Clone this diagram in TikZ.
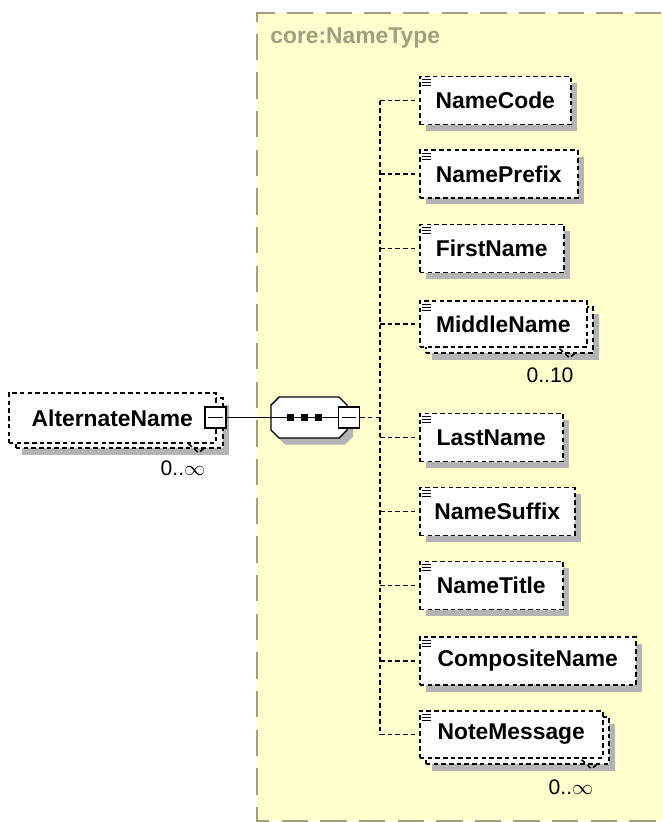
\documentclass[tikz,border=0pt]{standalone}
\usepackage{fontspec}
\setmainfont{Liberation Sans}
\usetikzlibrary{shadows}
\definecolor{framefill}{RGB}{255,255,206}
\definecolor{framegray}{RGB}{160,160,128}
\definecolor{shadowgray}{RGB}{180,180,180}
\newcommand\elfont{\fontsize{13}{15}\selectfont\bfseries}
\newcommand\occfont{\fontsize{12}{14}\selectfont}
\newcommand\docicon[1]{\foreach \k in {4,7,10} \draw[line width=0.6pt] ([shift={(3,\k)}]#1.north west) -- ++(9,0);}
\begin{document}
\begin{tikzpicture}[x=0.02cm,y=-0.02cm,
  boxw/.style={minimum width=#1*0.02cm},
  shadowed/.style={drop shadow={shadow xshift=0.12cm,shadow yshift=-0.13cm,fill=shadowgray,opacity=1}},
  elem/.style={draw,dash pattern=on 2.6pt off 1.8pt,line width=0.9pt,fill=white,font=\elfont,minimum height=0.96cm,inner sep=0pt,anchor=west},
  conn/.style={dash pattern=on 2.6pt off 1.8pt,line width=0.9pt},
  minusbox/.style={draw,fill=white,line width=0.7pt,minimum size=0.42cm,inner sep=0pt},
  occ/.style={font=\occfont,inner sep=0pt}]
\useasboundingbox (0,0) rectangle (663,822);

% complex type frame
\fill[framefill] (257,13) rectangle (700,821);
\draw[framegray,line width=1.1pt,dash pattern=on 15pt off 7pt] (700,13) -- (257,13) -- (257,821) -- (700,821);
\node[font=\elfont,text=framegray,anchor=west,inner sep=0pt] (typename) at (270,38) {core:NameType};

% root element
\node[elem,boxw=207,minimum height=1cm,shadowed] (altback) at (15,423) {};
\node[elem,boxw=207,minimum height=1cm] (alt) at (8,418) {AlternateName};
\draw[conn] ([shift={(-35,-5)}]altback.south east) -- ++(10,9) -- ++(6,-5);
\node[occ] (altocc) at (183,468) {0..$\infty$};

% sequence
\draw[fill=white,line width=0.8pt,shadowed] (279,397) -- (339,397) -- (347,405) -- (347,430)
  -- (339,438) -- (279,438) -- (271,430) -- (271,405) -- cycle;
\coordinate (seq) at (309,417.5);
\node[minusbox] (altminus) at (215.5,417.5) {};
\node[minusbox] (seqminus) at (349,417.5) {};
\draw[line width=0.8pt] (altminus.east) -- (seqminus.west);
\foreach \sx in {287,301,315} \fill (\sx,414) rectangle ++(7,7);
\draw[line width=0.7pt] ([shift={(4,0)}]altminus.west) -- ([shift={(-4,0)}]altminus.east);
\draw[line width=0.7pt] ([shift={(4,0)}]seqminus.west) -- ([shift={(-4,0)}]seqminus.east);
\coordinate (trunk) at (380,417.5);
\draw[conn] (seqminus.east) -- (trunk);

% child elements
\node[elem,boxw=151,shadowed] (code) at (419,100.5) {NameCode};
\node[elem,boxw=158,shadowed] (prefix) at (419,174) {NamePrefix};
\node[elem,boxw=144,shadowed] (first) at (419,248.5) {FirstName};
\node[elem,boxw=167,minimum height=0.92cm,shadowed] (midback) at (425,330) {};
\node[elem,boxw=167,minimum height=0.92cm] (middle) at (419,324) {MiddleName};
\draw[conn] ([shift={(-34,-5)}]midback.south east) -- ++(10,9) -- ++(6,-5);
\node[occ] (midocc) at (550,375) {0..10};
\node[elem,boxw=143,shadowed] (last) at (419,437.5) {LastName};
\node[elem,boxw=155,shadowed] (suffix) at (419,511.5) {NameSuffix};
\node[elem,boxw=143,shadowed] (title) at (419,585.5) {NameTitle};
\node[elem,boxw=216,shadowed] (composite) at (419,661) {CompositeName};
\node[elem,boxw=183,minimum height=0.94cm,shadowed] (noteback) at (425,740.5) {};
\node[elem,boxw=183,minimum height=0.94cm] (note) at (419,734.5) {NoteMessage};
\draw[conn] ([shift={(-28,-5)}]noteback.south east) -- ++(10,9) -- ++(6,-5);
\node[occ] (noteocc) at (571,787) {0..$\infty$};

\draw[conn] (code.west -| trunk) -- (note.west -| trunk);
\foreach \n in {code,prefix,first,middle,last,suffix,title,composite,note} {
  \draw[conn] (\n.west -| trunk) -- (\n.west);
  \docicon{\n}
}
\end{tikzpicture}
\end{document}
